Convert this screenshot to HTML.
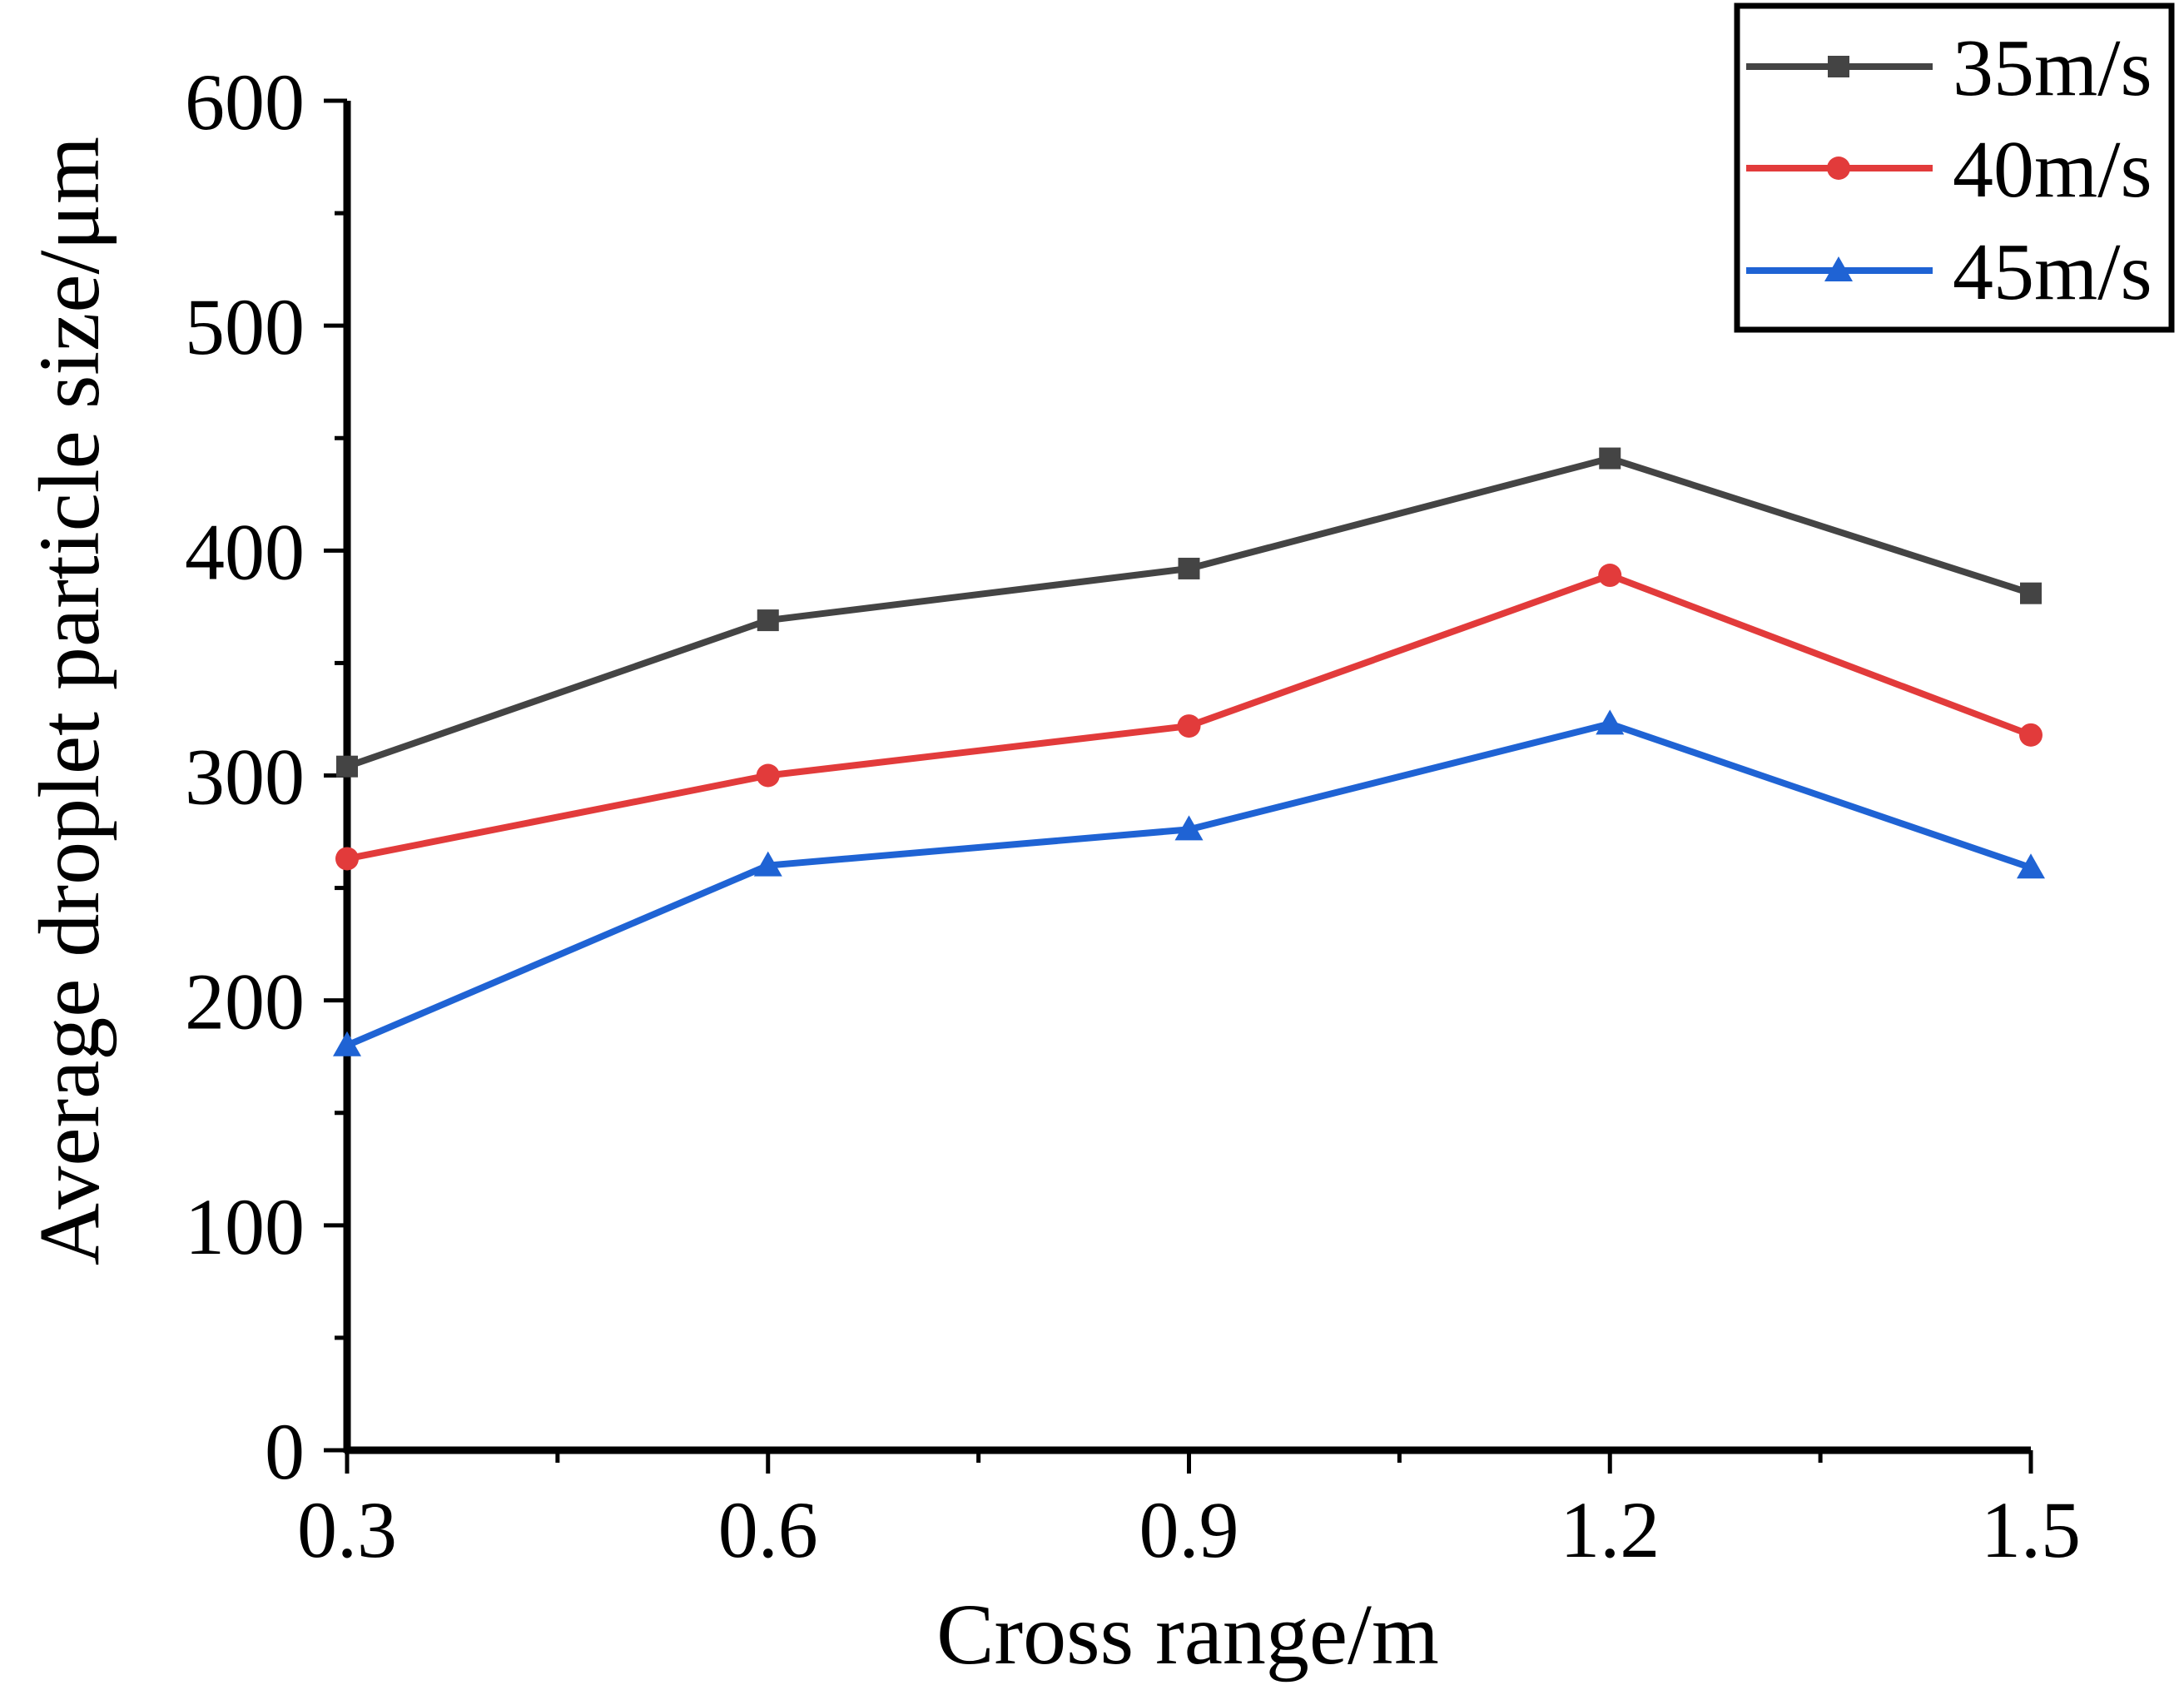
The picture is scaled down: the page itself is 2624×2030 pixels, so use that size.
<!DOCTYPE html>
<html><head><meta charset="utf-8"><style>
html,body{margin:0;padding:0;background:#fff;}
svg{display:block;font-family:"Liberation Serif","Times New Roman",serif;}
text{font-family:"Liberation Serif","Times New Roman",serif;}
</style></head><body>
<svg id="chart" width="2624" height="2030" viewBox="0 0 2624 2030"></svg>
<script>
const categories = [0.3, 0.6, 0.9, 1.2, 1.5];
const xTickLabels = ["0.3", "0.6", "0.9", "1.2", "1.5"];
const yTickValues = [0, 100, 200, 300, 400, 500, 600];
const seriesNames = ["35m/s", "40m/s", "45m/s"];
const series35 = [304, 369, 392, 441, 381];
const series40 = [263, 300, 322, 389, 318];
const series45 = [180, 260, 276, 323, 259];

const NS = "http://www.w3.org/2000/svg";
const svg = document.getElementById("chart");
const X0 = 417, X1 = 2440, Y0 = 1742, Y1 = 121;
function xs(v){ return X0 + (v - 0.3) / 1.2 * (X1 - X0); }
function ys(v){ return Y0 - v / 600 * (Y0 - Y1); }
function mk(tag, attrs, parent){
  const e = document.createElementNS(NS, tag);
  for (const k in attrs) e.setAttribute(k, attrs[k]);
  (parent || svg).appendChild(e);
  return e;
}

for (let v = 0; v <= 600; v += 50) {
  const major = v % 100 === 0;
  const t = mk("line", {x1: X0 - (major ? 28 : 15), x2: X0, y1: ys(v), y2: ys(v), stroke: "#000", "stroke-width": 5});
  
  
}
yTickValues.forEach(v => {
  const t = mk("text", {x: 366, y: ys(v) + 34, "text-anchor": "end", "font-size": 96, fill: "#000"});
  t.textContent = String(v);
  
  
});
for (let i = 0; i <= 8; i++) {
  const v = 0.3 + i * 0.15;
  const major = i % 2 === 0;
  const t = mk("line", {x1: xs(v), x2: xs(v), y1: Y0, y2: Y0 + (major ? 28 : 15), stroke: "#000", "stroke-width": 5});
  
  
}
categories.forEach((c, i) => {
  const t = mk("text", {x: xs(c), y: 1870, "text-anchor": "middle", "font-size": 96, fill: "#000"});
  t.textContent = xTickLabels[i];
  
  
});
const ax = mk("line", {x1: X0 - 3, x2: X1, y1: Y0, y2: Y0, stroke: "#000", "stroke-width": 9});


const ay = mk("line", {x1: X0, x2: X0, y1: Y1, y2: Y0 + 3, stroke: "#000", "stroke-width": 9});



const xt = mk("text", {x: 1427, y: 1998, "text-anchor": "middle", "font-size": 104, fill: "#000"});
xt.textContent = "Cross range/m";


const yt = mk("text", {x: 0, y: 0, "text-anchor": "middle", "font-size": 104, fill: "#000", transform: "translate(118,842) rotate(-90)"});
yt.textContent = "Average droplet particle size/\u03bcm";



const colors = ["#444444", "#e23b3b", "#1f63d4"];
const allSeries = [series35, series40, series45];
function marker(kind, x, y, color, g){
  let m;
  if (kind === 0) m = mk("rect", {x: x - 13, y: y - 13, width: 26, height: 26, fill: color}, g);
  else if (kind === 1) m = mk("circle", {cx: x, cy: y, r: 14, fill: color}, g);
  else m = mk("polygon", {points: `${x},${y-17} ${x+17},${y+13} ${x-17},${y+13}`, fill: color}, g);
  return m;
}
allSeries.forEach((vals, s) => {
  const g = mk("g", {});
  
  
  const pts = vals.map((v, i) => xs(categories[i]) + "," + ys(v)).join(" ");
  const pl = mk("polyline", {points: pts, fill: "none", stroke: colors[s], "stroke-width": 8, "stroke-linejoin": "round"}, g);
  
  
  vals.forEach((v, i) => {
    const m = marker(s, xs(categories[i]), ys(v), colors[s], g);
    
    
  });
});

const lg = mk("g", {});


const box = mk("rect", {x: 2087, y: 7, width: 522, height: 389, fill: "#fff", stroke: "#000", "stroke-width": 7}, lg);


const rowY = [80, 202, 325];
seriesNames.forEach((n, s) => {
  const e = mk("g", {}, lg);
  
  
  mk("line", {x1: 2098, x2: 2322, y1: rowY[s], y2: rowY[s], stroke: colors[s], "stroke-width": 8}, e);
  marker(s, 2209, rowY[s], colors[s], e);
  const t = mk("text", {x: 2346, y: rowY[s] + 34, "font-size": 98, fill: "#000"}, e);
  t.textContent = n;
});
</script>
</body></html>
